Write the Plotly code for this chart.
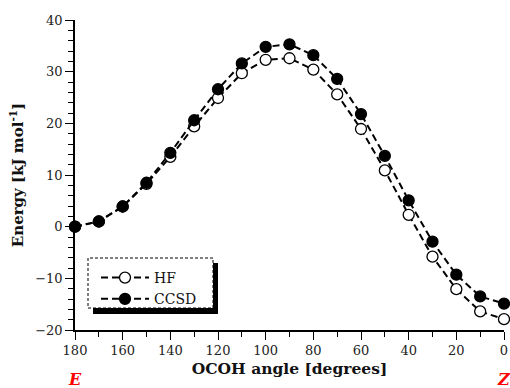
import plotly.graph_objects as go

angles = [180, 170, 160, 150, 140, 130, 120, 110, 100, 90, 80, 70, 60, 50, 40, 30, 20, 10, 0]
hf = [0.0, 1.0, 3.9, 8.3, 13.5, 19.4, 24.9, 29.7, 32.3, 32.6, 30.4, 25.6, 18.9, 10.9, 2.3, -5.8, -12.1, -16.4, -17.9]
ccsd = [0.0, 1.0, 3.9, 8.5, 14.3, 20.6, 26.6, 31.6, 34.8, 35.3, 33.2, 28.6, 21.8, 13.7, 5.1, -2.9, -9.3, -13.5, -14.9]
x_ticks = [180, 160, 140, 120, 100, 80, 60, 40, 20, 0]
y_ticks = [-20, -10, 0, 10, 20, 30, 40]
y_ticktext = ["\u221220", "\u221210", "0", "10", "20", "30", "40"]

FONT = "DejaVu Serif"
DASH = "7px,4px"

fig = go.Figure()
fig.add_trace(go.Scatter(
    x=angles, y=hf, name="HF", mode="lines+markers",
    line=dict(color="black", width=2, dash=DASH),
    marker=dict(symbol="circle", size=11, color="white", line=dict(color="black", width=1.3)),
    cliponaxis=False,
))
fig.add_trace(go.Scatter(
    x=angles, y=ccsd, name="CCSD", mode="lines+markers",
    line=dict(color="black", width=2, dash=DASH),
    marker=dict(symbol="circle", size=11, color="black", line=dict(color="black", width=1.3)),
    cliponaxis=False,
))

L, R, T, B = 75, 504, 20, 330
PW, PH = R - L, B - T

def px(x):
    return (x - L) / PW

def py(y):
    return (B - y) / PH

fig.update_layout(
    width=510, height=388,
    margin=dict(l=L, r=510 - R, t=T, b=388 - B, autoexpand=False),
    paper_bgcolor="white", plot_bgcolor="white",
    font=dict(family=FONT, size=13, color="#222"),
    showlegend=True,
    legend=dict(x=px(96), y=py(262), xanchor="left", yanchor="top",
                bgcolor="rgba(0,0,0,0)", borderwidth=0,
                font=dict(family=FONT, size=14, color="#111"),
                tracegroupgap=0, itemwidth=48),
    xaxis=dict(
        range=[180, 0], tickvals=x_ticks, showgrid=False, zeroline=False,
        showline=True, linecolor="black", linewidth=1.5,
        ticks="outside", ticklen=8, tickwidth=1.3, tickcolor="black",
        minor=dict(dtick=10, ticks="outside", ticklen=5, tickwidth=1.3, tickcolor="black", showgrid=False),
        title=dict(text="<b>OCOH angle [degrees]</b>", font=dict(family=FONT, size=15.5, color="#111"), standoff=6),
    ),
    yaxis=dict(
        range=[-20, 40], tickvals=y_ticks, ticktext=y_ticktext,
        showgrid=False, zeroline=False,
        showline=True, linecolor="black", linewidth=1.5,
        ticks="outside", ticklen=8, tickwidth=1.3, tickcolor="black",
        minor=dict(dtick=2, ticks="outside", ticklen=5, tickwidth=1.3, tickcolor="black", showgrid=False),
        title=dict(text="<b>Energy [kJ mol<sup>-1</sup>]</b>", font=dict(family=FONT, size=15, color="#111"), standoff=8),
    ),
    shapes=[
        dict(type="rect", xref="paper", yref="paper", x0=px(93), x1=px(218),
             y0=py(314), y1=py(263), fillcolor="black", line=dict(width=0)),
        dict(type="rect", xref="paper", yref="paper", x0=px(88), x1=px(213),
             y0=py(308), y1=py(258), fillcolor="white",
             line=dict(color="black", width=1, dash="3px,2px")),
    ],
    annotations=[
        dict(text="<b><i>E</i></b>", x=180, xref="x", y=py(368), yref="paper", yanchor="top",
             showarrow=False, font=dict(family=FONT, size=16, color="red")),
        dict(text="<b><i>Z</i></b>", x=0, xref="x", y=py(368), yref="paper", yanchor="top",
             showarrow=False, font=dict(family=FONT, size=16, color="red")),
    ],
)

fig.write_html("out.html", config={"displayModeBar": False},
               post_script="document.body.style.margin='0';document.body.style.overflow='hidden';")
